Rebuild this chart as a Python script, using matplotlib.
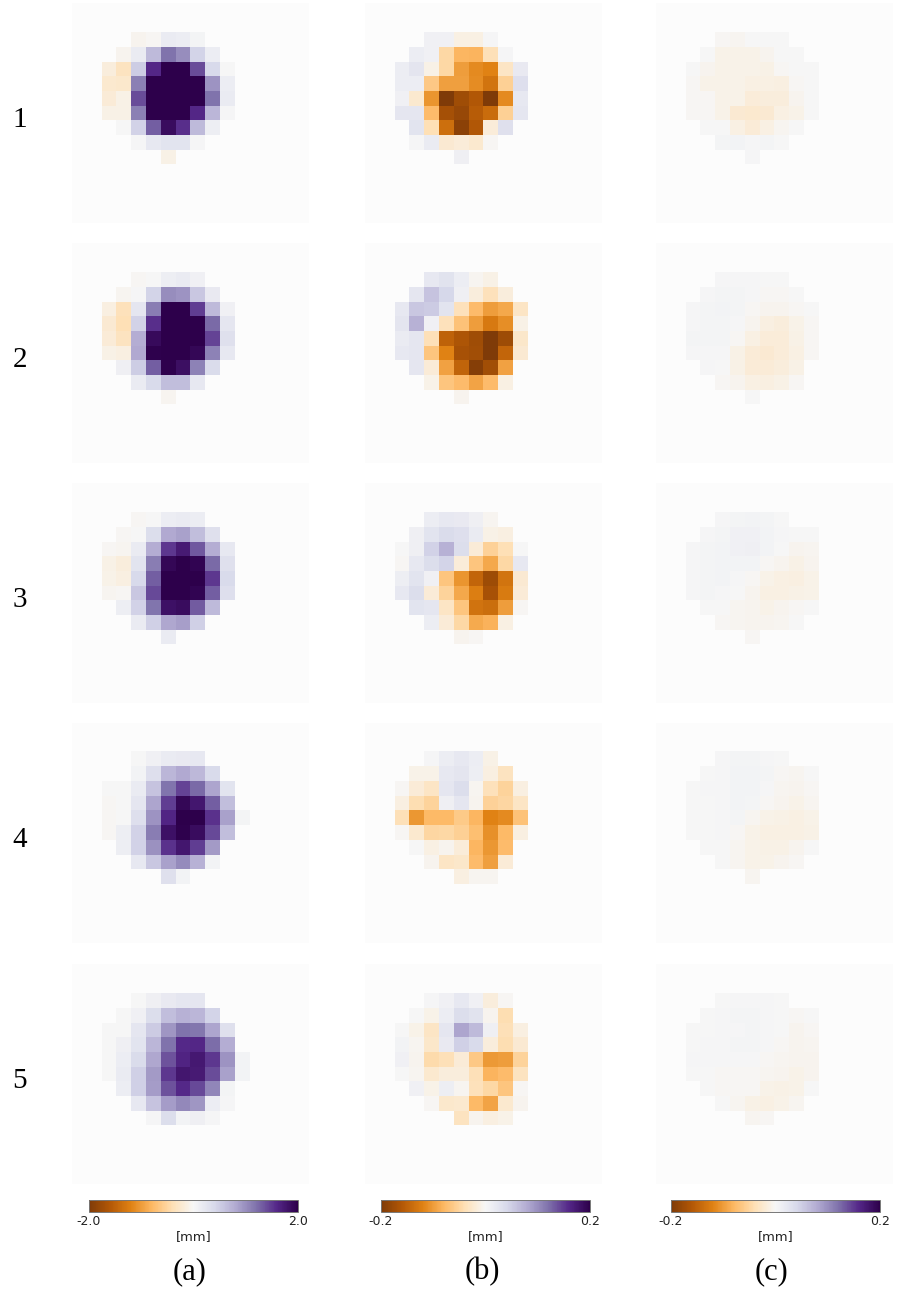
import numpy as np
import matplotlib
matplotlib.use("Agg")
import matplotlib.pyplot as plt

n = None

# cell values as percent of the colour scale, rows 2-10 and columns 2-11 of the 15x16 grid
a1 = [[n, n, -3, -1, 8, 7, 2],
      [n, -3, 8, 33, 60, 50, 22, 7],
      [-8, -17, 25, 80, 100, 100, 70, 20, 0],
      [-12, -13, 55, 100, 100, 100, 100, 48, 7],
      [-10, -5, 70, 100, 100, 100, 100, 60, 8],
      [-5, -5, 55, 100, 100, 100, 80, 35, 1],
      [n, 0, 23, 65, 93, 78, 33, 6],
      [n, n, 1, 10, 13, 13, 1],
      [n, n, n, n, -5]]
a2 = [[n, n, -1, 0, 6, 8, 4],
      [n, -2, 1, 22, 50, 48, 28, 9],
      [-7, -18, 11, 56, 100, 100, 74, 33, 4],
      [-11, -20, 23, 78, 100, 100, 100, 62, 11],
      [-10, -17, 39, 94, 100, 100, 100, 72, 15],
      [-5, -7, 40, 99, 100, 100, 96, 54, 10],
      [n, 5, 25, 65, 99, 92, 54, 18],
      [n, n, 8, 19, 32, 32, 10],
      [n, n, n, n, -2]]
a3 = [[n, n, -1, 0, 7, 8, 7],
      [n, -1, 0, 17, 40, 43, 32, 15],
      [-1, -2, 8, 39, 75, 86, 67, 39, 10],
      [-5, -8, 13, 56, 96, 100, 97, 62, 15],
      [-4, -7, 20, 65, 100, 100, 100, 75, 19],
      [-2, -1, 28, 71, 100, 100, 97, 65, 16],
      [n, 6, 23, 59, 91, 93, 66, 33],
      [n, n, 8, 24, 41, 44, 24],
      [n, n, n, n, 8]]
a4 = [[n, n, 0, 4, 8, 9, 10],
      [n, n, 3, 16, 35, 40, 34, 19],
      [0, 0, 8, 29, 59, 72, 62, 42, 13],
      [-1, 0, 11, 42, 74, 96, 88, 65, 32],
      [-1, 0, 16, 48, 81, 100, 100, 77, 43, 2],
      [-1, 6, 23, 56, 91, 99, 93, 71, 32],
      [n, 6, 23, 49, 77, 88, 74, 46],
      [n, n, 10, 28, 43, 51, 37, 3],
      [n, n, n, n, 15, 3]]
a5 = [[n, n, 0, 5, 9, 11, 11],
      [n, 0, 4, 17, 32, 37, 35, 22],
      [0, 0, 11, 26, 47, 60, 58, 42, 15],
      [0, 5, 13, 35, 60, 79, 80, 61, 39],
      [0, 7, 18, 41, 68, 82, 87, 75, 48, 3],
      [0, 8, 24, 46, 75, 88, 86, 70, 43, 3],
      [n, 7, 24, 45, 68, 79, 71, 53, 2],
      [n, n, 10, 29, 45, 52, 47, 7, 1],
      [n, n, n, 1, 17, 3, 5, 1]]

b1 = [[n, n, 4, 4, -6, -6, 1],
      [n, 7, 4, -24, -40, -41, -19, 1],
      [7, 12, -5, -24, -50, -57, -60, -15, 9],
      [7, 7, -32, -49, -49, -56, -66, -28, 16],
      [4, -12, -53, -100, -87, -80, -100, -57, 10],
      [11, 11, -38, -85, -90, -78, -70, -28, 11],
      [n, 13, -20, -68, -95, -80, -9, 15],
      [n, 1, 8, -11, -9, -12, -1],
      [n, n, n, n, 5]]
b2 = [[n, n, 10, 14, 7, -2, -5],
      [n, 11, 29, 21, 5, -8, -18, -8],
      [10, 28, 26, 13, -18, -38, -50, -46, -15],
      [12, 37, 4, -18, -35, -50, -64, -55, -5],
      [8, 11, -19, -75, -82, -87, -100, -88, -14],
      [10, 11, -33, -60, -84, -86, -100, -73, -11],
      [n, 11, -10, -48, -74, -97, -86, -48],
      [n, n, -4, -33, -38, -47, -38, -6],
      [n, n, n, n, -3]]
b3 = [[n, n, 7, 10, 9, 5, -2],
      [n, 5, 13, 18, 16, 8, -5, -7],
      [0, 5, 23, 37, 17, -10, -27, -20, 0],
      [-1, 10, 17, 22, -9, -33, -46, -24, 10],
      [6, 13, 4, -33, -53, -73, -88, -66, -11],
      [10, 17, -10, -26, -46, -61, -84, -63, -10],
      [n, 13, 11, -15, -33, -67, -69, -50, -1],
      [n, n, 7, -10, -24, -45, -42, -6],
      [n, n, n, n, -3, -1]]
b4 = [[n, n, 1, 7, 10, 7, -5],
      [n, -4, -4, 10, 12, 6, -7, -17],
      [-1, -10, -15, 11, 17, -2, -18, -26, -7],
      [-7, -21, -26, 5, 11, -3, -27, -25, -15],
      [-19, -52, -39, -39, -31, -40, -60, -57, -35],
      [-1, -12, -25, -24, -28, -36, -54, -39, -7],
      [n, 0, -6, -3, -9, -40, -52, -38],
      [n, n, -3, -15, -14, -38, -49, -10],
      [n, n, n, n, -7, -2, -2]]
b5 = [[n, n, 1, 4, 10, 4, -8, -1],
      [n, 0, -4, 7, 17, 14, -3, -21],
      [0, -4, -15, 11, 42, 33, 5, -19, -7],
      [3, -2, -14, 9, 24, 19, -8, -21, -11],
      [4, -3, -22, -19, -10, -32, -51, -50, -26],
      [0, -2, -12, -8, -8, -19, -41, -38, -17],
      [n, 4, -4, 6, -2, -18, -24, -33, -1],
      [n, n, -1, -13, -12, -39, -47, -12, -3],
      [n, n, n, n, -17, -3, -7, -4]]

c1 = [[n, n, -1, -2, 0, 0, 0],
      [n, 0, -4, -4, -4, -3, 0, 0],
      [0, -3, -4, -4, -4, -5, -1, 0, 0],
      [-1, -4, -4, -4, -6, -6, -7, -1, 0],
      [-1, -1, -4, -4, -9, -8, -8, -3, 0],
      [-1, -1, -4, -11, -12, -11, -6, -4, 0],
      [n, 0, 0, -6, -10, -6, -2, 0],
      [n, n, 2, 3, 1, 2, 0],
      [n, n, n, n, 1]]
c2 = [[n, n, 1, 1, 1, 0, 0],
      [n, 1, 2, 2, 1, -1, -1, 0],
      [1, 2, 3, 2, -1, -3, -3, -1, 0],
      [1, 2, 2, 1, -3, -7, -8, -4, -1],
      [2, 2, 2, -1, -6, -9, -9, -5, -1],
      [1, 1, 1, -5, -10, -11, -9, -6, -1],
      [n, 1, 0, -5, -10, -10, -8, -5],
      [n, n, -1, -3, -6, -7, -5, -1],
      [n, n, n, n, 0]]
c3 = [[n, n, 1, 2, 3, 2, 0],
      [n, 1, 2, 4, 4, 3, 1, 0, 0],
      [1, 2, 3, 4, 5, 3, 0, -3, -2],
      [1, 2, 3, 3, 3, -1, -3, -5, -3],
      [1, 2, 3, 1, -1, -4, -6, -7, -4],
      [1, 2, 1, 0, -3, -6, -6, -5, -4],
      [n, 0, 0, -2, -3, -4, -3, -1, 0],
      [n, n, -1, -2, -3, -3, -2, 0],
      [n, n, n, n, -1]]
c4 = [[n, n, 1, 2, 2, 1, 0],
      [n, 0, 1, 3, 3, 2, -1, -2, 0],
      [0, 1, 1, 3, 3, 1, -2, -3, -1],
      [0, 0, 1, 3, 2, -1, -3, -4, -2],
      [0, 0, 1, 2, -2, -4, -5, -6, -4],
      [0, 0, 1, -1, -4, -6, -6, -6, -5],
      [n, 0, 0, -2, -4, -5, -5, -3, 0],
      [n, n, 0, -2, -4, -4, -3, -1],
      [n, n, n, n, -2]]
c5 = [[n, n, 0, 1, 1, 1, 0],
      [n, 0, 1, 2, 2, 1, 0, -1, 0],
      [0, 0, 1, 1, 2, 1, 0, -3, -1],
      [0, 1, 1, 2, 2, 1, -1, -3, -2],
      [1, 1, 1, 1, 1, -1, -2, -3, -3],
      [0, 0, -1, -1, -1, -2, -3, -4, -3],
      [n, 0, -1, -1, -1, -4, -5, -4, 0],
      [n, n, 0, -2, -5, -6, -4, -2],
      [n, n, n, n, -2, -1]]

columns = [[a1, a2, a3, a4, a5], [b1, b2, b3, b4, b5], [c1, c2, c3, c4, c5]]
scales = [2.0, 0.2, 0.2]
row_labels = ["1", "2", "3", "4", "5"]
col_labels = ["(a)", "(b)", "(c)"]

W, H = 920, 1299
col_x = [72, 365, 656]
row_y = [3, 243, 483, 723, 964]
panel_w, panel_h = 237, 220
cbar_x = [89, 381, 671]


def px_axes(fig, x, y, w, h):
    # pixel box measured from the top left of the picture
    return fig.add_axes([x / W, 1 - (y + h) / H, w / W, h / H])


def to_grid(rows):
    grid = np.full((15, 16), np.nan)
    for i, row in enumerate(rows):
        for j, v in enumerate(row):
            if v is not None:
                grid[i + 2, j + 2] = v
    return grid


cmap = plt.get_cmap("PuOr").copy()
cmap.set_bad("#fcfcfc")

fig = plt.figure(figsize=(W / 100, H / 100), dpi=100, facecolor="white")

for c, panels in enumerate(columns):
    vmax = scales[c]
    for r, rows in enumerate(panels):
        ax = px_axes(fig, col_x[c], row_y[r], panel_w, panel_h)
        im = ax.imshow(to_grid(rows) * vmax / 100, cmap=cmap, vmin=-vmax, vmax=vmax,
                       interpolation="nearest", aspect="auto")
        ax.axis("off")

    # --- colorbar below each column ---
    cax = px_axes(fig, cbar_x[c], 1200, 209, 12)
    cb = fig.colorbar(im, cax=cax, orientation="horizontal", ticks=[-vmax, vmax])
    cb.ax.set_xticklabels([f"{-vmax:.1f}", f"{vmax:.1f}"], fontsize=9, color="#222222")
    cb.ax.tick_params(length=0, pad=2.5)
    cb.outline.set_edgecolor("#777777")
    cb.outline.set_linewidth(0.7)
    fig.text((cbar_x[c] + 105) / W, 1 - 1237 / H, "[mm]", fontsize=9.4, color="#222222",
             ha="center", va="center")
    fig.text((cbar_x[c] + 101) / W, 1 - 1272 / H, col_labels[c], fontsize=22,
             family="Liberation Serif", ha="center", va="center")

for r, label in enumerate(row_labels):
    fig.text(20 / W, 1 - (row_y[r] + 117) / H, label, fontsize=21,
             family="Liberation Serif", ha="center", va="center")

fig.savefig("out.png", dpi=100)
